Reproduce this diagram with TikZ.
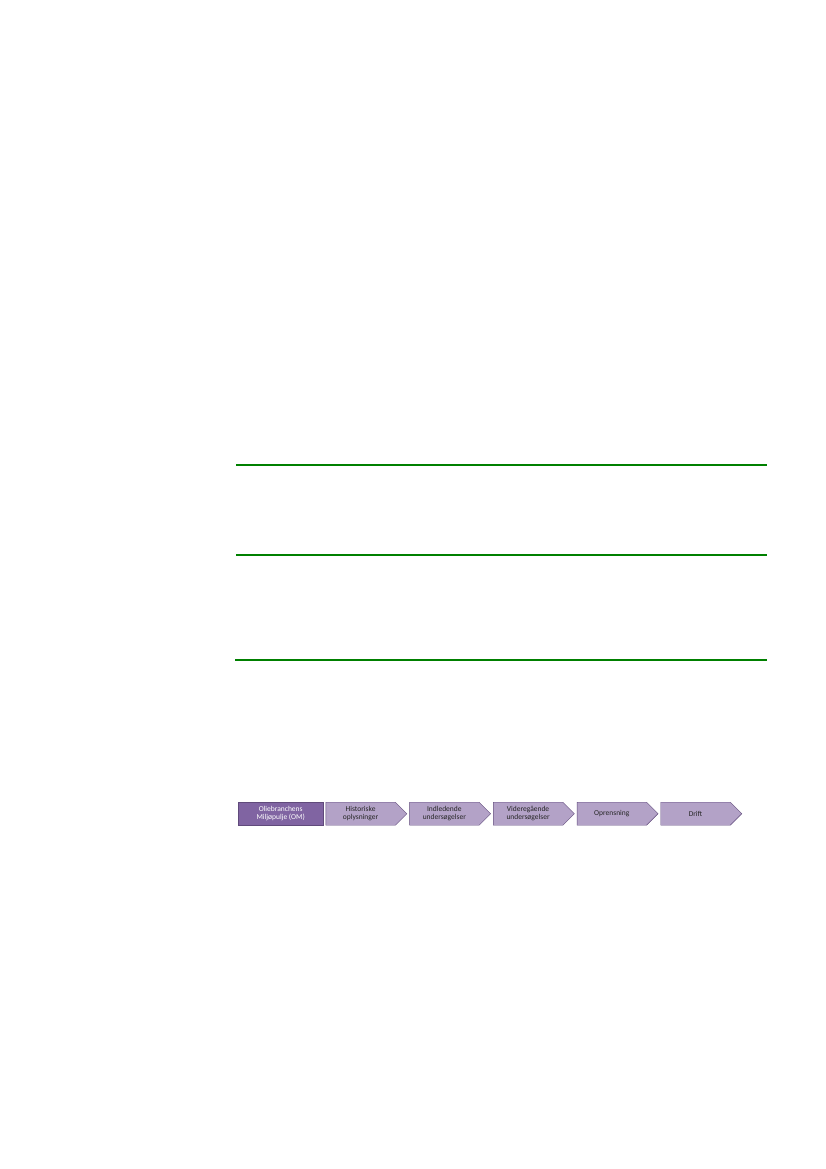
\documentclass[tikz,border=0pt]{standalone}
\usepackage{fontspec}
\setmainfont{Carlito}
\usetikzlibrary{positioning,shapes.symbols}
\definecolor{rulegreen}{RGB}{0,128,0}
\definecolor{omfill}{RGB}{128,100,162}
\definecolor{phasefill}{RGB}{179,162,199}
\definecolor{phaseline}{RGB}{96,74,123}

\begin{document}
\begin{tikzpicture}[x=1pt, y=-1pt, node distance={2.25pt},
    phase/.style = {draw=phaseline, fill=phasefill, signal, signal to=east, signal pointer angle=90,
      minimum width=81pt, minimum height=23pt, inner sep=0pt, align=center,
      font=\fontsize{7.5}{8}\selectfont, text=black!85},
    om/.style = {draw=phaseline, fill=omfill, rectangle, minimum width=85pt, minimum height=23pt,
      inner sep=0pt, align=center, font=\fontsize{7.5}{8}\selectfont, text=white}]
    \useasboundingbox (0,0) rectangle (826,1169);

    % green rules
    \coordinate (topw) at (236,465);
    \coordinate (tope) at (767,465);
    \coordinate (midw) at (236,555);
    \coordinate (mide) at (767,555);
    \coordinate (botw) at (235,660);
    \coordinate (bote) at (767,660);
    \draw[rulegreen, line width=1.8pt] (topw) -- (tope);
    \draw[rulegreen, line width=1.1pt] (midw) -- (mide);
    \draw[rulegreen, line width=2pt] (botw) -- (bote);

    % phases
    \node[om, anchor=north west] (OM) at (238,802) {Oliebranchens\\Miljøpulje (OM)};
    \node[phase] (Hist) [right=of OM] {Historiske\\oplysninger};
    \node[phase] (Indl) [right=of Hist] {Indledende\\undersøgelser};
    \node[phase] (Vid) [right=of Indl] {Videregående\\undersøgelser};
    \node[phase] (Opr) [right=of Vid] {Oprensning};
    \node[phase] (Drift) [right=of Opr] {Drift};
\end{tikzpicture}
\end{document}
